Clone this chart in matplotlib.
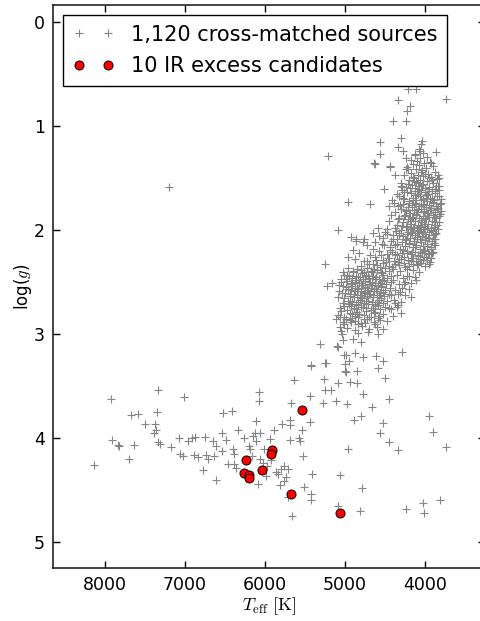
import matplotlib
matplotlib.use("Agg")
import matplotlib.pyplot as plt

plt.rcParams['font.family'] = ['DejaVu Sans']
plt.rcParams['mathtext.fontset'] = 'cm'

# ---------------- data ----------------
# sparse sources: upper giant branch / outskirts
teff_upper = [7200, 5217, 4342, 4400, 4558, 4333, 4567, 4642, 4630, 4442, 4375, 4517, 4958, 4692,
              5083, 5250, 5225, 5158, 4208, 4108, 3733, 4183, 4225, 4242, 4300, 4275, 4242, 4042,
              4050, 4125, 4058, 3858, 4433, 4242, 4283, 3925, 4862, 4758, 4654, 4592, 4446, 4383,
              4300, 4217, 4300, 4175, 4112, 4342, 4446, 4071, 3967, 3883, 3821, 3800, 3842, 3821,
              4920, 4860, 4780, 4720, 4900, 4820, 4960, 4880, 4760]
logg_upper = [1.59, 1.29, 0.75, 0.95, 1.16, 1.20, 1.27, 1.36, 1.37, 1.40, 1.47, 1.61, 1.73, 1.75,
              2.00, 2.33, 2.54, 2.51, 0.65, 0.65, 0.74, 0.81, 0.86, 0.95, 1.12, 1.24, 1.31, 1.15,
              1.18, 1.27, 1.24, 1.25, 1.39, 1.42, 1.59, 1.36, 2.11, 2.09, 2.03, 1.98, 1.77, 1.74,
              1.58, 1.42, 2.80, 2.65, 2.48, 2.72, 2.75, 2.41, 2.22, 2.09, 1.93, 1.74, 1.58, 1.50,
              2.07, 2.09, 2.12, 2.15, 2.19, 2.22, 2.26, 2.28, 2.30]

# sparse sources: subgiant / intermediate region
teff_mid = [5317, 5100, 5025, 4900, 4800, 5042, 4992, 4875, 4775, 4617, 4525, 4292, 5425, 5242,
            5000, 4950, 5000, 4850, 4592, 4500, 4942, 4850, 4775, 4450, 4667, 4800, 4892, 3950,
            3900, 3733, 4525, 4567, 4450, 4342, 4792, 4817, 4233, 4025, 4008, 3817, 5050, 4842,
            4717, 4592, 5092, 5008]
logg_mid = [3.10, 3.12, 3.06, 3.05, 3.08, 3.00, 3.20, 3.18, 3.22, 3.21, 3.26, 3.17, 3.31, 3.28,
            3.29, 3.26, 3.36, 3.36, 3.33, 3.42, 3.46, 3.47, 3.58, 3.63, 3.70, 3.79, 3.83, 3.79,
            3.94, 4.09, 3.86, 3.95, 4.04, 4.12, 4.48, 4.70, 4.68, 4.63, 4.72, 4.60, 2.97, 2.99,
            2.98, 3.00, 3.13, 3.20]

# sparse sources: main sequence
teff_ms = [8133, 7925, 7917, 7842, 7830, 7700, 7675, 7583, 7633, 7500, 7375, 7367, 7383, 7350,
           7342, 7342, 7308, 7175, 7075, 7017, 7067, 7025, 6967, 6908, 6875, 6883, 6842, 6775,
           6750, 6733, 6717, 6650, 6633, 6617, 6608, 6542, 6525, 6533, 6492, 6458, 6408, 6400,
           6383, 6392, 6342, 6358, 6258, 6200, 6183, 6158, 6150, 6117, 6125, 6108, 6083, 6075,
           6075, 6058, 6058, 6025, 6008, 5992, 5975, 5942, 5925, 5883, 5867, 5842, 5808, 5783,
           5767, 5742, 5717, 5708, 5692, 5692, 5692, 5675, 5667, 5633, 5575, 5567, 5542, 5525,
           5517, 5442, 5442, 5425, 5425, 5417, 5425, 5275, 5267, 5250, 5175, 5250, 5108, 5083,
           5067, 5092, 4975, 4983, 4967, 5758, 5800]
logg_ms = [4.26, 3.63, 4.02, 4.07, 4.08, 4.20, 3.78, 3.77, 4.07, 3.87, 3.87, 3.92, 3.95, 3.75,
           3.54, 4.04, 4.06, 4.09, 4.00, 3.61, 4.15, 4.17, 4.03, 4.00, 3.99, 4.16, 4.18, 4.31,
           3.99, 4.16, 4.20, 4.03, 4.17, 4.40, 4.08, 4.13, 3.76, 3.95, 4.02, 4.25, 3.74, 4.11,
           4.15, 4.25, 3.92, 4.29, 4.00, 4.08, 4.11, 4.17, 3.98, 3.84, 3.95, 4.03, 4.44, 3.56,
           3.65, 3.95, 4.20, 4.24, 4.11, 4.37, 4.27, 4.01, 4.21, 3.92, 4.33, 4.35, 4.45, 3.87,
           4.27, 4.38, 4.30, 4.57, 3.83, 3.88, 4.02, 3.66, 4.75, 3.44, 4.00, 4.03, 3.92, 4.17,
           4.47, 3.85, 3.60, 4.60, 4.54, 4.35, 3.30, 3.66, 3.43, 3.54, 3.54, 3.28, 3.65, 3.47,
           4.36, 4.65, 3.67, 3.37, 4.11, 4.41, 4.30]

# dense giant branch, tip (logg 1.2-1.6)
teff_tip = [4080, 4020, 4130, 3980, 4060, 4180, 4100, 3940, 4010, 4150, 4070, 3900, 4230, 3990,
            4110, 4040, 3870, 4170, 3960, 4090, 4260, 4020, 3920, 4140, 3850, 4060, 4200, 3980,
            4110, 4300, 3900, 4030, 4160, 3830, 4080, 3950, 4240, 4000, 4120, 3880]
logg_tip = [1.22, 1.26, 1.28, 1.30, 1.31, 1.33, 1.34, 1.35, 1.36, 1.37, 1.38, 1.39, 1.40, 1.41,
            1.42, 1.43, 1.44, 1.45, 1.46, 1.47, 1.47, 1.48, 1.49, 1.50, 1.51, 1.52, 1.52, 1.53,
            1.54, 1.55, 1.55, 1.56, 1.57, 1.58, 1.58, 1.59, 1.59, 1.60, 1.60, 1.61]

# dense giant branch (logg 1.6-2.0)
teff_rgb1 = [3820, 3870, 3910, 3960, 4000, 4045, 4090, 4130, 4180, 4230, 4290, 4350, 3990,
             3800, 3850, 3890, 3940, 3975, 4020, 4065, 4110, 4150, 4200, 4260, 4330, 4410,
             3810, 3860, 3900, 3950, 3990, 4030, 4075, 4120, 4165, 4215, 4270, 4340, 3925,
             3800, 3845, 3880, 3930, 3970, 4010, 4050, 4095, 4140, 4190, 4240, 4300, 4380,
             3820, 3865, 3905, 3945, 3985, 4025, 4070, 4115, 4160, 4210, 4265, 4330, 4420,
             3830, 3875, 3915, 3960, 4000, 4040, 4085, 4130, 4175, 4225, 4280, 4350, 4450,
             3840, 3885, 3925, 3970, 4010, 4055, 4100, 4145, 4190, 4240, 4300, 4370, 4480]
logg_rgb1 = [1.62, 1.65, 1.63, 1.66, 1.64, 1.62, 1.66, 1.63, 1.65, 1.64, 1.62, 1.66, 1.67,
             1.70, 1.68, 1.71, 1.69, 1.72, 1.70, 1.68, 1.71, 1.69, 1.72, 1.70, 1.68, 1.71,
             1.75, 1.77, 1.74, 1.76, 1.78, 1.75, 1.77, 1.74, 1.76, 1.78, 1.75, 1.77, 1.79,
             1.82, 1.80, 1.83, 1.81, 1.84, 1.82, 1.80, 1.83, 1.81, 1.84, 1.82, 1.80, 1.83,
             1.87, 1.89, 1.86, 1.88, 1.90, 1.87, 1.89, 1.86, 1.88, 1.90, 1.87, 1.89, 1.86,
             1.93, 1.95, 1.92, 1.94, 1.96, 1.93, 1.95, 1.92, 1.94, 1.96, 1.93, 1.95, 1.92,
             1.99, 1.97, 2.00, 1.98, 1.99, 1.97, 2.00, 1.98, 1.99, 1.97, 2.00, 1.98, 1.99]

# dense giant branch (logg 2.0-2.35)
teff_rgb2 = [3860, 3905, 3950, 3995, 4040, 4085, 4130, 4175, 4220, 4270, 4330, 4400, 4500, 4580,
             3870, 3915, 3960, 4005, 4050, 4095, 4140, 4185, 4235, 4290, 4350, 4420, 4520, 4620,
             3880, 3930, 3975, 4020, 4065, 4110, 4155, 4200, 4250, 4310, 4370, 4440, 4540, 4650,
             3900, 3950, 3995, 4040, 4085, 4130, 4180, 4230, 4285, 4345, 4410, 4480, 4570, 4690,
             3920, 3970, 4015, 4060, 4110, 4160, 4210, 4265, 4320, 4385, 4450, 4530, 4620, 4730,
             3950, 4000, 4050, 4100, 4150, 4205, 4260, 4320, 4380, 4450, 4520, 4600, 4700, 4800]
logg_rgb2 = [2.03, 2.05, 2.02, 2.04, 2.06, 2.03, 2.05, 2.02, 2.04, 2.06, 2.03, 2.05, 2.02, 2.06,
             2.09, 2.11, 2.08, 2.10, 2.12, 2.09, 2.11, 2.08, 2.10, 2.12, 2.09, 2.11, 2.08, 2.12,
             2.15, 2.17, 2.14, 2.16, 2.18, 2.15, 2.17, 2.14, 2.16, 2.18, 2.15, 2.17, 2.14, 2.18,
             2.21, 2.23, 2.20, 2.22, 2.24, 2.21, 2.23, 2.20, 2.22, 2.24, 2.21, 2.23, 2.20, 2.24,
             2.27, 2.29, 2.26, 2.28, 2.30, 2.27, 2.29, 2.26, 2.28, 2.30, 2.27, 2.29, 2.26, 2.30,
             2.33, 2.35, 2.32, 2.34, 2.33, 2.35, 2.32, 2.34, 2.33, 2.35, 2.32, 2.34, 2.33, 2.35]

# dense giant branch, additional sources between the rows above
teff_rgb3 = [3842, 3915, 4003, 4088, 4152, 4214, 3868, 3951, 4037, 4106, 4187, 4262,
             3823, 3897, 3978, 4054, 4123, 4196, 4281, 3861, 3934, 4017, 4093, 4161,
             4238, 4312, 3813, 3889, 3963, 4046, 4117, 4182, 4254, 4336, 3852, 3927,
             4008, 4071, 4142, 4213, 4289, 4368, 3873, 3948, 4026, 4098, 4168, 4247,
             4322, 4403, 4472, 3893, 3972, 4051, 4126, 4203, 4276, 4356, 4437, 4511,
             3912, 3988, 4068, 4147, 4226, 4303, 4381, 4462, 4548, 4613, 3937, 4021,
             4093, 4179, 4247, 4336, 4417, 4493, 4566, 4648, 4724,
             3955, 4052, 4137, 3876, 3992, 4077, 4155, 3832, 3917, 4008, 4107, 4201,
             3880, 3995, 4068, 4151, 3905, 3983, 4061, 4132, 3925, 4012, 4089, 4168]
logg_rgb3 = [1.47, 1.52, 1.46, 1.55, 1.49, 1.56, 1.58, 1.61, 1.57, 1.63, 1.60, 1.64,
             1.68, 1.73, 1.66, 1.71, 1.67, 1.74, 1.69, 1.77, 1.81, 1.76, 1.80, 1.78,
             1.81, 1.76, 1.85, 1.88, 1.84, 1.91, 1.85, 1.92, 1.86, 1.90, 1.95, 1.98,
             1.94, 2.01, 1.97, 2.02, 1.96, 2.01, 2.04, 2.08, 2.02, 2.07, 2.03, 2.09,
             2.05, 2.09, 2.04, 2.13, 2.16, 2.12, 2.17, 2.13, 2.19, 2.14, 2.19, 2.15,
             2.22, 2.26, 2.21, 2.27, 2.22, 2.28, 2.23, 2.27, 2.24, 2.29, 2.31, 2.29,
             2.33, 2.30, 2.36, 2.31, 2.36, 2.31, 2.36, 2.33, 2.37,
             1.50, 1.44, 1.53, 1.63, 1.69, 1.61, 1.71, 1.79, 1.70, 1.83, 1.75, 1.84,
             1.93, 1.89, 1.96, 1.89, 2.01, 2.07, 2.09, 2.11, 2.18, 2.19, 2.25, 2.21]

# red clump (logg 2.35-2.8)
teff_clump = [4400, 4450, 4500, 4550, 4600, 4640, 4680, 4720, 4760, 4800, 4850, 4900, 4960, 5030, 4150, 4230, 4310,
              4420, 4480, 4530, 4575, 4615, 4655, 4695, 4735, 4775, 4815, 4860, 4910, 4970, 5050, 4120, 4200, 4280, 4350,
              4430, 4490, 4540, 4585, 4625, 4665, 4705, 4745, 4785, 4825, 4870, 4920, 4980, 5070, 4170, 4250, 4330,
              4440, 4500, 4550, 4595, 4635, 4675, 4715, 4755, 4795, 4835, 4880, 4930, 4990, 5080, 4200, 4290, 4370,
              4450, 4510, 4560, 4605, 4645, 4685, 4725, 4765, 4805, 4845, 4890, 4940, 5000, 5090, 4250, 4340,
              4470, 4530, 4580, 4625, 4665, 4710, 4760, 4810, 4860, 4910, 4960, 5030, 4300, 4390,
              4500, 4560, 4620, 4680, 4740, 4800, 4860, 4920, 4980, 5060, 4350, 4430]
logg_clump = [2.38, 2.40, 2.37, 2.41, 2.39, 2.38, 2.40, 2.37, 2.41, 2.39, 2.38, 2.40, 2.37, 2.41, 2.39, 2.38, 2.40,
              2.44, 2.46, 2.43, 2.47, 2.45, 2.44, 2.46, 2.43, 2.47, 2.45, 2.44, 2.46, 2.43, 2.47, 2.45, 2.44, 2.46, 2.43,
              2.50, 2.52, 2.49, 2.53, 2.51, 2.50, 2.52, 2.49, 2.53, 2.51, 2.50, 2.52, 2.49, 2.53, 2.51, 2.50, 2.52,
              2.56, 2.58, 2.55, 2.59, 2.57, 2.56, 2.58, 2.55, 2.59, 2.57, 2.56, 2.58, 2.55, 2.59, 2.57, 2.56, 2.58,
              2.62, 2.64, 2.61, 2.65, 2.63, 2.62, 2.64, 2.61, 2.65, 2.63, 2.62, 2.64, 2.61, 2.65, 2.63, 2.62,
              2.68, 2.70, 2.67, 2.71, 2.69, 2.68, 2.70, 2.67, 2.71, 2.69, 2.68, 2.70, 2.69, 2.67,
              2.74, 2.76, 2.73, 2.77, 2.75, 2.74, 2.76, 2.73, 2.77, 2.75, 2.74, 2.76]

# red clump, additional sources between the rows above
teff_clump2 = [4532, 4608, 4663, 4718, 4782, 4837, 4894, 4952, 5012,
               4518, 4567, 4622, 4691, 4748, 4803, 4866, 4927, 4991, 5045,
               4545, 4612, 4658, 4731, 4772, 4852, 4907, 4963, 5028,
               4528, 4579, 4641, 4703, 4746, 4812, 4871, 4936, 5042,
               4547, 4603, 4652, 4735, 4788, 4838, 4887, 4942, 5008,
               4592, 4651, 4708, 4772, 4833, 4892, 4951, 5018,
               4626, 4733, 4845, 4912, 5047,
               4589, 4676, 4763, 4838, 4908, 4983, 5062,
               4630, 4745, 4840, 4922, 5015,
               4268, 4394, 4312, 4419, 4371, 4227]
logg_clump2 = [2.42, 2.45, 2.41, 2.44, 2.42, 2.45, 2.41, 2.44, 2.43,
               2.48, 2.51, 2.47, 2.50, 2.47, 2.51, 2.48, 2.51, 2.47, 2.50,
               2.54, 2.57, 2.53, 2.56, 2.53, 2.56, 2.54, 2.57, 2.54,
               2.60, 2.63, 2.59, 2.62, 2.60, 2.63, 2.59, 2.62, 2.61,
               2.66, 2.69, 2.65, 2.68, 2.66, 2.69, 2.65, 2.68, 2.66,
               2.72, 2.75, 2.71, 2.74, 2.72, 2.75, 2.71, 2.73,
               2.79, 2.78, 2.79, 2.81, 2.78,
               2.85, 2.84, 2.86, 2.84, 2.85, 2.86, 2.84,
               2.91, 2.90, 2.91, 2.89, 2.91,
               2.52, 2.48, 2.60, 2.63, 2.70, 2.44]

# below the clump (logg 2.8-3.0)
teff_low = [4520, 4580, 4640, 4700, 4760, 4820, 4880, 4940, 5010, 5090, 4400,
            4560, 4640, 4720, 4800, 4870, 4940, 5020, 5110, 4470,
            4600, 4700, 4790, 4880, 4970, 5060, 4520]
logg_low = [2.81, 2.83, 2.80, 2.84, 2.82, 2.81, 2.83, 2.80, 2.84, 2.82, 2.83,
            2.87, 2.89, 2.86, 2.90, 2.88, 2.87, 2.89, 2.86, 2.88,
            2.93, 2.95, 2.92, 2.96, 2.94, 2.93, 2.95]

# IR excess candidates
teff_ir = [5533, 5909, 5921, 6242, 6037, 6258, 6200, 6200, 5671, 5067]
logg_ir = [3.73, 4.12, 4.155, 4.216, 4.31, 4.34, 4.36, 4.385, 4.54, 4.72]

label_all = "1,120 cross-matched sources"
label_ir = "10 IR excess candidates"
xticks = [8000, 7000, 6000, 5000, 4000]
yticks = [0, 1, 2, 3, 4, 5]

# ---------------- plot ----------------
teff_all = (teff_upper + teff_mid + teff_ms + teff_tip + teff_rgb1 + teff_rgb2 + teff_rgb3
            + teff_clump + teff_clump2 + teff_low)
logg_all = (logg_upper + logg_mid + logg_ms + logg_tip + logg_rgb1 + logg_rgb2 + logg_rgb3
            + logg_clump + logg_clump2 + logg_low)

fig = plt.figure(figsize=(4.8, 6.21), dpi=100)
ax = fig.add_axes([53/480, 1 - 568/621, 432/480, 563/621])

ax.plot(teff_all, logg_all, ls='none', marker='+', color='#858585', ms=5.5, mew=0.8,
        label=label_all)
ax.plot(teff_ir, logg_ir, ls='none', marker='o', mfc='red', mec='black', ms=6.5, mew=0.7,
        label=label_ir)

ax.set_xlim(8650, 3250)
ax.set_ylim(5.25, -0.16)
ax.set_xticks(xticks)
ax.set_yticks(yticks)
ax.tick_params(direction='in', top=True, right=True, length=5, width=1, labelsize=12.5, pad=6)
for s in ax.spines.values():
    s.set_linewidth(1.2)
    s.set_color('#222222')

ax.set_xlabel(r'$T_{\rm eff}\ [{\rm K}]$', fontsize=13, labelpad=1)
ax.set_ylabel(r'log($g$)', fontsize=12, labelpad=0)

leg = ax.legend(loc='upper left', numpoints=2, fontsize=15, fancybox=False, framealpha=1,
                edgecolor='black', handlelength=2.0, handletextpad=0.8, borderpad=0.45,
                labelspacing=0.55, borderaxespad=0.5)
leg.get_frame().set_linewidth(1.0)

fig.savefig('out.png', dpi=100)
